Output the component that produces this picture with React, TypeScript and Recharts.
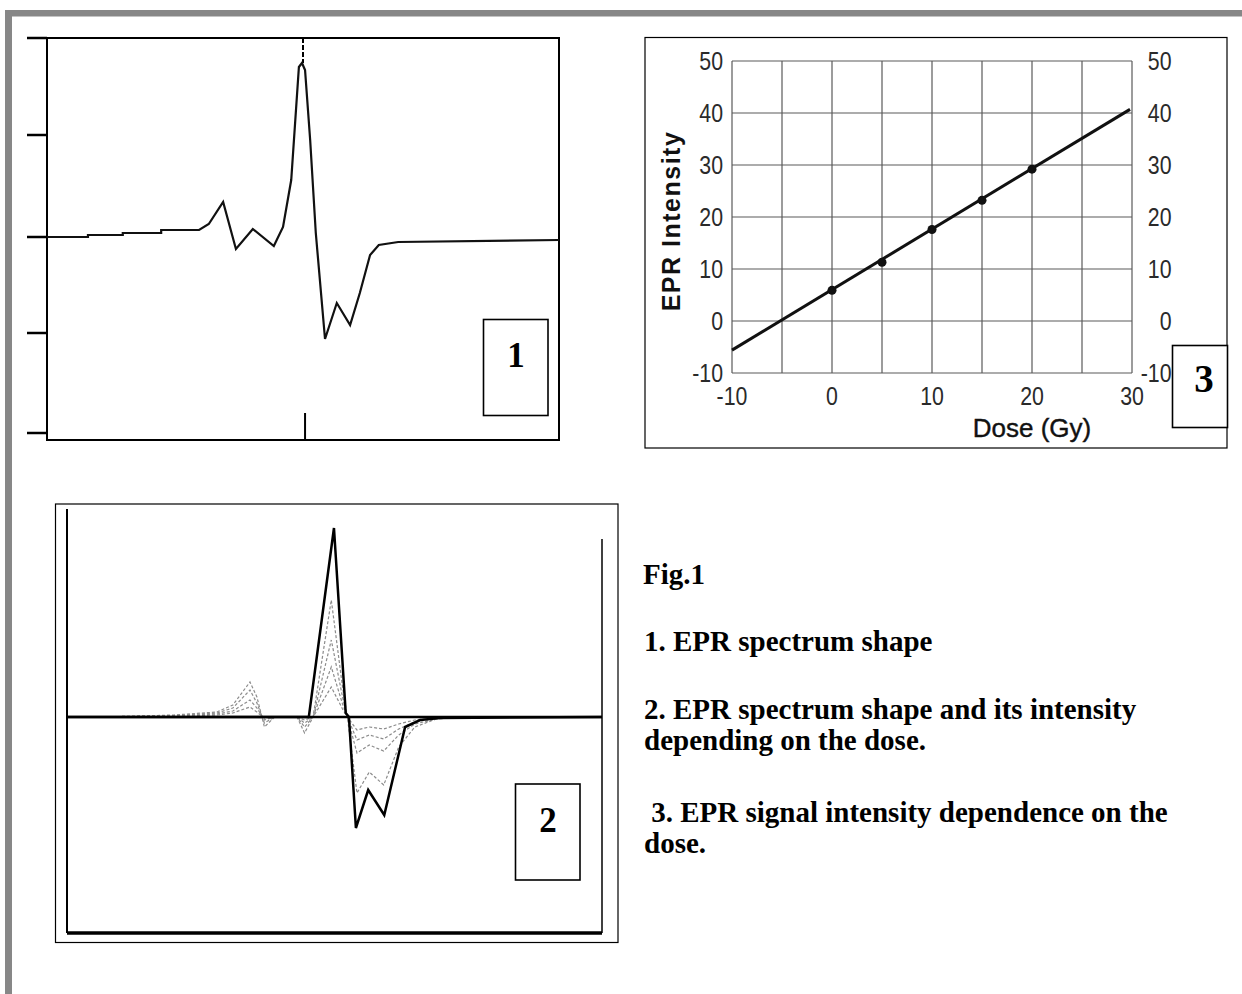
import React from 'react';
import {
  ComposedChart,
  LineChart,
  Line,
  XAxis,
  YAxis,
  ReferenceLine,
  ReferenceArea,
  Scatter,
} from 'recharts';

// ---------- Panel 1 : EPR spectrum shape (arbitrary units) ----------
const p1X = [0, 8, 8, 14.8, 14.8, 22.3, 22.3, 29.7, 31.6, 34.4, 36.9, 40.2, 44.3, 46.1, 47.7, 49.2, 49.8, 50.4, 51.4, 52.5, 54.3, 56.6, 59.2, 61.1, 63.1, 64.8, 68.6, 100];
const p1Y = [3, 3, 5, 5, 7, 7, 10, 10, 16, 38, -9, 11, -6, 13, 60, 173, 177, 170, 100, 7, -99, -63, -85, -53, -15, -5, -2, 0];
const p1Ticks = [202, 105, 3, -93, -193];

// ---------- Panel 2 : spectra for several doses ----------
const p2X = [0, 10, 20, 28, 31, 34.2, 35.5, 36.9, 38.8, 43, 44.4, 46, 49.4, 51.5, 52.4, 54.2, 56.5, 59.2, 62, 65, 69, 75, 100];
const p2Dose1 = [0, 0.5, 2, 5, 12, 35, 20, -10, 0, 0, -16, 0, 117, 30, 0, -76, -55, -68, -30, -10, -2, 0, 0];
const p2Dose2 = [0, 0.5, 1.5, 4, 9, 27, 14, -6, 0, 0, -10, 0, 77, 20, 0, -36, -28, -34, -18, -7, -2, 0, 0];
const p2Dose3 = [0, 0.3, 1, 3, 6, 17, 9, -3, 0, 0, -6, 0, 50, 13, 0, -23, -18, -22, -12, -5, -1, 0, 0];
const p2Dose4 = [0, 0.2, 0.5, 2, 4, 10, 5, -1, 0, 0, -3, 0, 30, 8, 0, -13, -10, -12, -7, -3, -1, 0, 0];
const p2MaxX = [0, 45.2, 49.9, 52.1, 52.7, 54.0, 56.3, 59.3, 63.2, 66.0, 69.7, 100];
const p2MaxY = [0, 0, 189, 4, 0, -111, -73, -98, -10, -3, -1, 0];

// ---------- Panel 3 : EPR intensity vs dose ----------
const doseGy = [0, 5, 10, 15, 20];
const eprIntensity = [5.9, 11.3, 17.6, 23.2, 29.2];
const fitDose = [-10, 29.8];
const fitIntensity = [-5.6, 40.7];
const doseTicks = [-10, 0, 10, 20, 30];
const intensityTicks = [-10, 0, 10, 20, 30, 40, 50];
const doseGrid = [-10, -5, 0, 5, 10, 15, 20, 25, 30];

const zip = (xs: number[], ys: number[]) => xs.map((x, i) => ({ x, y: ys[i] }));

const sans = "'Liberation Sans', Arial, sans-serif";
const serif = "'Liberation Serif', 'Times New Roman', serif";

const makeTick = (anchor: string, dy: string) => (props: any) => (
  <g transform={`translate(${props.x},${props.y})`}>
    <text
      transform="scale(0.82,1)"
      x={0}
      y={0}
      dy={dy}
      textAnchor={anchor}
      fontFamily={sans}
      fontSize={26}
      fill="#2a2a2a"
    >
      {props.payload.value}
    </text>
  </g>
);
const LeftTick = makeTick('end', '0.355em');
const RightTick = makeTick('end', '0.355em');
const BottomTick = makeTick('middle', '0.71em');

function Panel1() {
  const data = zip(p1X, p1Y);
  return (
    <div style={{ position: 'absolute', left: 20, top: 30 }}>
      <LineChart width={560} height={420} margin={{ top: 8, right: 21, bottom: 10, left: 0 }}>
        <XAxis type="number" dataKey="x" domain={[0, 100]} hide />
        <YAxis
          type="number"
          domain={[-200, 202]}
          ticks={p1Ticks}
          width={27}
          tickSize={20}
          axisLine={false}
          tickLine={{ stroke: '#000', strokeWidth: 2.5 }}
          tickFormatter={() => ''}
          allowDataOverflow
        />
        <ReferenceArea x1={0} x2={100} y1={-200} y2={202} stroke="#000" strokeWidth={2} fill="none" fillOpacity={0} />
        <ReferenceLine
          segment={[{ x: 50, y: 202 }, { x: 50, y: 177 }]}
          stroke="#000"
          strokeWidth={2}
          strokeDasharray="5 2"
        />
        <ReferenceLine
          segment={[{ x: 50.4, y: -173 }, { x: 50.4, y: -200 }]}
          stroke="#000"
          strokeWidth={2}
        />
        <Line
          data={data}
          dataKey="y"
          type="linear"
          stroke="#111"
          strokeWidth={2.2}
          dot={false}
          isAnimationActive={false}
        />
      </LineChart>
    </div>
  );
}

function Panel2() {
  const grays = [p2Dose1, p2Dose2, p2Dose3, p2Dose4];
  return (
    <div style={{ position: 'absolute', left: 56, top: 504 }}>
      <LineChart width={562} height={439} margin={{ top: 5, right: 16, bottom: 10, left: 11 }}>
        <XAxis type="number" dataKey="x" domain={[0, 100]} hide />
        <YAxis type="number" domain={[-216, 208]} hide />
        <ReferenceLine ifOverflow="visible" segment={[{ x: 0, y: 208 }, { x: 0, y: -216 }]} stroke="#000" strokeWidth={2} />
        <ReferenceLine ifOverflow="visible" segment={[{ x: 100, y: 178 }, { x: 100, y: -216 }]} stroke="#000" strokeWidth={1.5} />
        <ReferenceLine ifOverflow="visible" segment={[{ x: 0, y: -216 }, { x: 100, y: -216 }]} stroke="#000" strokeWidth={3.5} />
        {grays.map((g, i) => (
          <Line
            key={i}
            data={zip(p2X, g)}
            dataKey="y"
            type="linear"
            stroke="#8c8c8c"
            strokeWidth={1.2}
            strokeDasharray="3 2"
            dot={false}
            isAnimationActive={false}
          />
        ))}
        <ReferenceLine y={0} stroke="#000" strokeWidth={2.5} />
        <Line
          data={zip(p2MaxX, p2MaxY)}
          dataKey="y"
          type="linear"
          stroke="#000"
          strokeWidth={2.5}
          dot={false}
          isAnimationActive={false}
        />
      </LineChart>
    </div>
  );
}

function Panel3() {
  const fit = zip(fitDose, fitIntensity);
  const pts = zip(doseGy, eprIntensity);
  return (
    <div style={{ position: 'absolute', left: 645, top: 37 }}>
      <ComposedChart width={582} height={411} margin={{ top: 24, right: 0, bottom: 0, left: 0 }}>
        <XAxis
          type="number"
          dataKey="x"
          domain={[-10, 30]}
          ticks={doseTicks}
          height={75}
          axisLine={false}
          tickLine={false}
          tickSize={0}
          tickMargin={14}
          tick={BottomTick}
          label={{
            content: (p: any) => (
              <text
                x={p.viewBox.x + 300}
                y={p.viewBox.y + 64}
                textAnchor="middle"
                fontFamily={sans}
                fontSize={26}
                fill="#111"
                stroke="#111"
                strokeWidth={0.4}
              >
                Dose (Gy)
              </text>
            ),
          }}
        />
        <YAxis
          yAxisId="left"
          type="number"
          domain={[-10, 50]}
          ticks={intensityTicks}
          width={87}
          axisLine={false}
          tickLine={false}
          tickSize={0}
          tickMargin={9}
          tick={LeftTick}
          label={{
            content: () => (
              <text
                x={26}
                y={184}
                transform="rotate(-90 26 184)"
                textAnchor="middle"
                dominantBaseline="central"
                fontFamily={sans}
                fontWeight="bold"
                fontSize={25}
                letterSpacing={1.5}
                fill="#111"
              >
                EPR Intensity
              </text>
            ),
          }}
        />
        <YAxis
          yAxisId="right"
          orientation="right"
          type="number"
          domain={[-10, 50]}
          ticks={intensityTicks}
          width={95}
          axisLine={false}
          tickLine={false}
          tickSize={0}
          tickMargin={39.5}
          tick={RightTick}
        />
        {intensityTicks.map((v) => (
          <ReferenceLine key={'h' + v} yAxisId="left" y={v} stroke="#5a5a5a" strokeWidth={1.2} />
        ))}
        {doseGrid.map((v) => (
          <ReferenceLine key={'v' + v} yAxisId="left" x={v} stroke="#5a5a5a" strokeWidth={1.2} />
        ))}
        <Line
          yAxisId="right"
          data={fit}
          dataKey="y"
          type="linear"
          stroke="#111"
          strokeWidth={3}
          dot={false}
          isAnimationActive={false}
        />
        <Scatter yAxisId="left" data={pts} dataKey="y" fill="#111" isAnimationActive={false} />
      </ComposedChart>
    </div>
  );
}

function Overlay() {
  const boxStyle = { fill: '#fff', stroke: '#000', strokeWidth: 1.6 };
  return (
    <svg
      width={1242}
      height={994}
      style={{ position: 'absolute', left: 0, top: 0, pointerEvents: 'none' }}
    >
      {/* gray frame */}
      <rect x={5} y={10} width={1237} height={6.5} fill="#878787" />
      <rect x={5} y={10} width={7} height={984} fill="#878787" />
      {/* panel frames */}
      <rect x={55.5} y={504} width={562.5} height={438.5} fill="none" stroke="#000" strokeWidth={1.2} />
      <rect x={645} y={37.5} width={582} height={410.5} fill="none" stroke="#000" strokeWidth={1.2} />
      {/* number boxes */}
      <rect x={483.5} y={319.5} width={64.5} height={96} {...boxStyle} />
      <text x={516} y={367} textAnchor="middle" fontFamily={serif} fontWeight="bold" fontSize={35}>1</text>
      <rect x={515.5} y={784} width={64.5} height={96} {...boxStyle} />
      <text x={548} y={832} textAnchor="middle" fontFamily={serif} fontWeight="bold" fontSize={35}>2</text>
      <rect x={1172.5} y={345.5} width={55} height={82} {...boxStyle} />
      <text x={1204} y={392} textAnchor="middle" fontFamily={serif} fontWeight="bold" fontSize={39}>3</text>
      {/* caption */}
      <g fontFamily={serif} fontWeight="bold" fontSize={29} fill="#000">
        <text x={643} y={584}>Fig.1</text>
        <text x={644} y={651}>1. EPR spectrum shape</text>
        <text x={644} y={719}>2. EPR spectrum shape and its intensity</text>
        <text x={644} y={750}>depending on the dose.</text>
        <text x={644} y={822} xmlSpace="preserve"> 3. EPR signal intensity dependence on the</text>
        <text x={644} y={853}>dose.</text>
      </g>
    </svg>
  );
}

export default function App() {
  return (
    <div style={{ position: 'absolute', left: 0, top: 0, width: 1242, height: 994, background: '#fff', overflow: 'hidden' }}>
      <Panel1 />
      <Panel2 />
      <Panel3 />
      <Overlay />
    </div>
  );
}
